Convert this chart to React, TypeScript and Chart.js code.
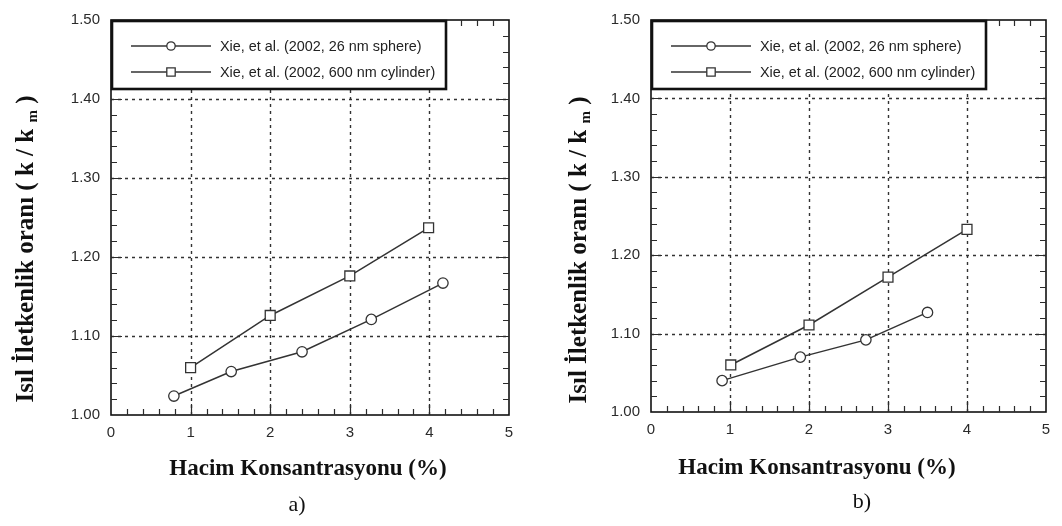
import React, { useEffect, useRef } from "react";
import { Chart, registerables } from "chart.js";

Chart.register(...registerables);

// ---- data ----
const xTickValues = [0, 1, 2, 3, 4, 5];
const yTickValues = [1.0, 1.1, 1.2, 1.3, 1.4, 1.5];
const legendLabels = ["Xie, et al. (2002, 26 nm sphere)", "Xie, et al. (2002, 600 nm cylinder)"];
const xTitle = "Hacim Konsantrasyonu (%)";
const yTitleMain = "Isıl İletkenlik oranı ( k / k ";
const yTitleSub = "m";
const yTitleEnd = " )";
const panelLabels = ["a)", "b)"];

const aSphereX = [0.79, 1.51, 2.4, 3.27, 4.17];
const aSphereY = [1.024, 1.055, 1.08, 1.121, 1.167];
const aCylX = [1.0, 2.0, 3.0, 3.99];
const aCylY = [1.06, 1.126, 1.176, 1.237];

const bSphereX = [0.9, 1.89, 2.72, 3.5];
const bSphereY = [1.04, 1.07, 1.092, 1.127];
const bCylX = [1.01, 2.0, 3.0, 4.0];
const bCylY = [1.06, 1.111, 1.172, 1.233];

const toPts = (xs: number[], ys: number[]) => xs.map((x, i) => ({ x, y: ys[i] }));

type PanelCfg = {
  label: string;
  sphere: { x: number; y: number }[];
  cyl: { x: number; y: number }[];
  padding: { left: number; right: number; top: number; bottom: number };
  xTitlePos: [number, number];
  yTitlePos: [number, number];
  labelPos: [number, number];
};

const INK = "#2b2b2b";

function makePlugin(cfg: PanelCfg) {
  return {
    id: "paperDecor",
    beforeDatasetsDraw(chart: any) {
      const { ctx, chartArea: a, scales } = chart;
      const x = scales.x;
      const y = scales.y;
      ctx.save();
      ctx.strokeStyle = "#333";
      ctx.lineWidth = 1.4;
      ctx.setLineDash([3, 4]);
      xTickValues.slice(1, -1).forEach((v) => {
        const px = Math.round(x.getPixelForValue(v)) + 0.5;
        ctx.beginPath();
        ctx.moveTo(px, a.bottom);
        ctx.lineTo(px, a.top);
        ctx.stroke();
      });
      yTickValues.slice(1, -1).forEach((v) => {
        const py = Math.round(y.getPixelForValue(v)) + 0.5;
        ctx.beginPath();
        ctx.moveTo(a.left, py);
        ctx.lineTo(a.right, py);
        ctx.stroke();
      });
      ctx.restore();
    },
    afterDraw(chart: any) {
      const { ctx, chartArea: a, scales } = chart;
      const x = scales.x;
      const y = scales.y;
      ctx.save();
      // frame
      ctx.strokeStyle = "#111";
      ctx.lineWidth = 1.6;
      ctx.strokeRect(a.left, a.top, a.right - a.left, a.bottom - a.top);
      // inner ticks
      ctx.lineWidth = 1.2;
      ctx.strokeStyle = INK;
      const x0 = xTickValues[0];
      const x1 = xTickValues[xTickValues.length - 1];
      const y0 = yTickValues[0];
      const y1 = yTickValues[yTickValues.length - 1];
      for (let i = 1; i < 25; i++) {
        const major = i % 5 === 0;
        const len = major ? 11 : 6;
        const px = Math.round(x.getPixelForValue(x0 + ((x1 - x0) * i) / 25)) + 0.5;
        ctx.beginPath();
        ctx.moveTo(px, a.bottom);
        ctx.lineTo(px, a.bottom - len);
        ctx.moveTo(px, a.top);
        ctx.lineTo(px, a.top + len);
        ctx.stroke();
        const py = Math.round(y.getPixelForValue(y0 + ((y1 - y0) * i) / 25)) + 0.5;
        ctx.beginPath();
        ctx.moveTo(a.left, py);
        ctx.lineTo(a.left + len, py);
        ctx.moveTo(a.right, py);
        ctx.lineTo(a.right - len, py);
        ctx.stroke();
      }
      // legend box
      const bx = a.left + 1;
      const by = a.top + 1;
      const bw = 334;
      const bh = 68;
      ctx.fillStyle = "#fff";
      ctx.fillRect(bx, by, bw, bh);
      ctx.lineWidth = 2.6;
      ctx.strokeStyle = "#111";
      ctx.strokeRect(bx, by, bw, bh);
      const rows = [by + 25, by + 51];
      ctx.font = '14.4px "Liberation Sans", Arial, sans-serif';
      ctx.textBaseline = "middle";
      ctx.textAlign = "left";
      rows.forEach((ry, i) => {
        ctx.strokeStyle = "#333";
        ctx.lineWidth = 1.3;
        ctx.beginPath();
        ctx.moveTo(a.left + 20, ry);
        ctx.lineTo(a.left + 100, ry);
        ctx.stroke();
        const mx = a.left + 60;
        ctx.fillStyle = "#fff";
        ctx.beginPath();
        if (i === 0) ctx.arc(mx, ry, 4.2, 0, Math.PI * 2);
        else ctx.rect(mx - 4.2, ry - 4.2, 8.4, 8.4);
        ctx.fill();
        ctx.stroke();
        ctx.fillStyle = "#222";
        ctx.fillText(legendLabels[i], a.left + 109, ry + 1);
      });
      // x title
      ctx.fillStyle = "#111";
      ctx.textAlign = "center";
      ctx.textBaseline = "middle";
      ctx.font = 'bold 23px "Liberation Serif", "Times New Roman", serif';
      ctx.fillText(xTitle, cfg.xTitlePos[0], cfg.xTitlePos[1]);
      // panel label
      ctx.font = '22px "Liberation Serif", "Times New Roman", serif';
      ctx.fillText(cfg.label, cfg.labelPos[0], cfg.labelPos[1]);
      // y title (rotated, with subscript)
      ctx.save();
      ctx.translate(cfg.yTitlePos[0], cfg.yTitlePos[1]);
      ctx.rotate(-Math.PI / 2);
      const mainFont = 'bold 25px "Liberation Serif", "Times New Roman", serif';
      const subFont = 'bold 15px "Liberation Serif", "Times New Roman", serif';
      ctx.font = mainFont;
      const w1 = ctx.measureText(yTitleMain).width;
      const w3 = ctx.measureText(yTitleEnd).width;
      ctx.font = subFont;
      const w2 = ctx.measureText(yTitleSub).width;
      const total = w1 + w2 + w3;
      let cx = -total / 2;
      ctx.textAlign = "left";
      ctx.textBaseline = "alphabetic";
      ctx.font = mainFont;
      ctx.fillText(yTitleMain, cx, 8);
      cx += w1;
      ctx.font = subFont;
      ctx.fillText(yTitleSub, cx, 12);
      cx += w2;
      ctx.font = mainFont;
      ctx.fillText(yTitleEnd, cx, 8);
      ctx.restore();
      ctx.restore();
    },
  };
}

function Panel({ cfg, left }: { cfg: PanelCfg; left: number }) {
  const ref = useRef<HTMLCanvasElement | null>(null);
  useEffect(() => {
    if (!ref.current) return;
    const chart = new Chart(ref.current, {
      type: "scatter",
      data: {
        datasets: [
          {
            label: legendLabels[0],
            data: cfg.sphere,
            showLine: true,
            borderColor: "#333",
            borderWidth: 1.5,
            pointStyle: "circle",
            pointRadius: 5.2,
            pointBorderWidth: 1.3,
            pointBackgroundColor: "#fff",
            pointBorderColor: "#333",
          },
          {
            label: legendLabels[1],
            data: cfg.cyl,
            showLine: true,
            borderColor: "#333",
            borderWidth: 1.5,
            pointStyle: "rect",
            pointRadius: 7,
            pointBorderWidth: 1.3,
            pointBackgroundColor: "#fff",
            pointBorderColor: "#333",
          },
        ],
      },
      options: {
        animation: false,
        responsive: false,
        layout: { padding: cfg.padding },
        plugins: { legend: { display: false }, tooltip: { enabled: false } },
        scales: {
          x: {
            type: "linear",
            min: xTickValues[0],
            max: xTickValues[xTickValues.length - 1],
            afterFit: (s: any) => {
              s.height = 30;
            },
            afterBuildTicks: (s: any) => {
              s.ticks = xTickValues.map((v) => ({ value: v }));
            },
            grid: { display: false, drawTicks: false },
            border: { display: false },
            ticks: {
              padding: 9,
              color: INK,
              font: { family: '"Liberation Sans", Arial, sans-serif', size: 15 },
              callback: (v: any) => String(v),
            },
          },
          y: {
            type: "linear",
            min: yTickValues[0],
            max: yTickValues[yTickValues.length - 1],
            afterFit: (s: any) => {
              s.width = 60;
            },
            afterBuildTicks: (s: any) => {
              s.ticks = yTickValues.map((v) => ({ value: v }));
            },
            grid: { display: false, drawTicks: false },
            border: { display: false },
            ticks: {
              padding: 11,
              color: INK,
              font: { family: '"Liberation Sans", Arial, sans-serif', size: 15 },
              callback: (v: any) => Number(v).toFixed(2),
            },
          },
        },
      },
      plugins: [makePlugin(cfg)],
    } as any);
    return () => chart.destroy();
  }, [cfg]);
  return (
    <canvas
      ref={ref}
      width={531}
      height={526}
      style={{ position: "absolute", left, top: 0, width: 531, height: 526 }}
    />
  );
}

const panelA: PanelCfg = {
  label: panelLabels[0],
  sphere: toPts(aSphereX, aSphereY),
  cyl: toPts(aCylX, aCylY),
  padding: { left: 51, right: 22, top: 13, bottom: 81 },
  xTitlePos: [308, 469],
  yTitlePos: [25, 249],
  labelPos: [297, 505],
};

const panelB: PanelCfg = {
  label: panelLabels[1],
  sphere: toPts(bSphereX, bSphereY),
  cyl: toPts(bCylX, bCylY),
  padding: { left: 60, right: 16, top: 14, bottom: 84 },
  xTitlePos: [286, 468],
  yTitlePos: [47, 250],
  labelPos: [331, 502],
};

export default function App() {
  return (
    <div
      style={{
        position: "fixed",
        left: 0,
        top: 0,
        width: 1062,
        height: 526,
        background: "#fff",
        overflow: "hidden",
      }}
    >
      <Panel cfg={panelA} left={0} />
      <Panel cfg={panelB} left={531} />
    </div>
  );
}
